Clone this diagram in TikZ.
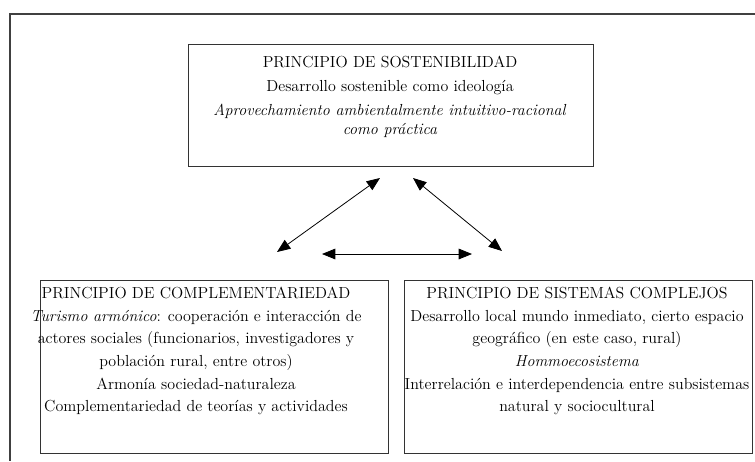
\documentclass[tikz,border=0pt]{standalone}
\usetikzlibrary{arrows.meta}
\begin{document}
\begin{tikzpicture}[x=0.75pt,y=-0.75pt,
  marco/.style={draw=black!75, line width=0.9pt},
  caja/.style={draw=black!80, line width=0.6pt, inner sep=0pt},
  textoarriba/.style={align=center, inner sep=0pt, font=\fontsize{12}{14}\selectfont},
  textoabajo/.style={align=center, inner sep=0pt, font=\fontsize{12}{17}\selectfont},
  flecha/.style={{Triangle[length=10pt,width=8pt]}-{Triangle[length=10pt,width=8pt]}, line width=0.6pt}]
  \useasboundingbox (0,0) rectangle (755,461);

  \coordinate (m1) at (755,14);
  \coordinate (m2) at (10,14);
  \coordinate (m3) at (10,461);
  \draw[marco] (m1) -- (m2) -- (m3);

  \node[caja, minimum width=303.75pt, minimum height=91.5pt] (sost) at (390.5,105) {};
  \node[caja, minimum width=261pt, minimum height=129.75pt] (compl) at (214,366.5) {};
  \node[caja, minimum width=261pt, minimum height=129.75pt] (sist) at (578,366.5) {};

  \node[textoarriba] (sosttxt) at (390,97) {PRINCIPIO DE SOSTENIBILIDAD\\[4pt]
    Desarrollo sostenible como ideología\\[4pt]
    \textit{Aprovechamiento ambientalmente intuitivo-racional}\\
    \textit{como práctica}};
  \node[textoabajo] (compltxt) at (196,351) {PRINCIPIO DE COMPLEMENTARIEDAD\\
    \textit{Turismo armónico}: cooperación e interacción de\\
    actores sociales (funcionarios, investigadores y\\
    población rural, entre otros)\\
    Armonía sociedad-naturaleza\\
    Complementariedad de teorías y actividades};
  \node[textoabajo] (sisttxt) at (577,351) {PRINCIPIO DE SISTEMAS COMPLEJOS\\
    Desarrollo local mundo inmediato, cierto espacio\\
    geográfico (en este caso, rural)\\
    \textit{Hommoecosistema}\\
    Interrelación e interdependencia entre subsistemas\\
    natural y sociocultural};

  \coordinate (s1) at (380,178);
  \coordinate (c1) at (277,252);
  \coordinate (s2) at (413,178);
  \coordinate (k1) at (502,251);
  \coordinate (c2) at (322,254);
  \coordinate (k2) at (472,254);
  \draw[flecha] (c1) -- (s1);
  \draw[flecha] (k1) -- (s2);
  \draw[flecha] (c2) -- (k2);
\end{tikzpicture}
\end{document}
